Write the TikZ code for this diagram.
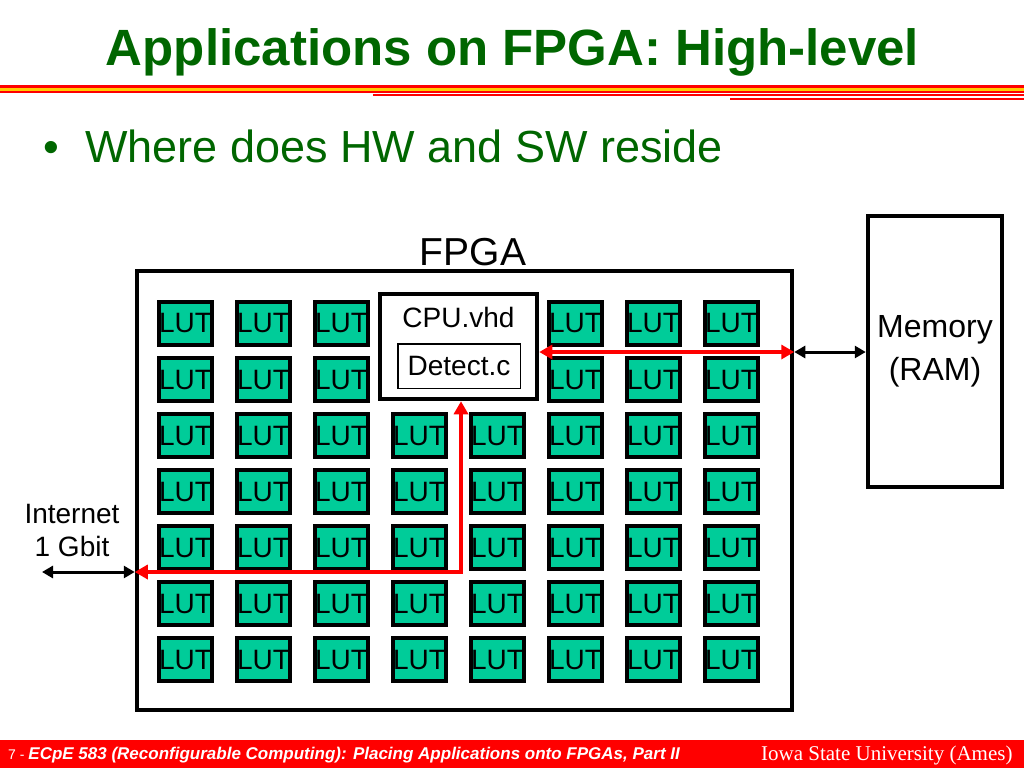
\documentclass[tikz,border=0pt]{standalone}
\usepackage{fontspec}
\setmainfont{Liberation Sans}
\newfontfamily\isufont{Liberation Serif}
\usetikzlibrary{arrows.meta}
\definecolor{titlegreen}{RGB}{0,102,0}
\definecolor{lutgreen}{RGB}{0,204,153}
\definecolor{bandyellow}{RGB}{255,204,0}
\newcommand{\fs}[1]{\fontsize{#1}{1.18\dimexpr#1pt\relax}\selectfont}

\begin{document}
\begin{tikzpicture}[x=1pt,y=-1pt,
  lut/.style={draw,line width=4pt,fill=lutgreen,minimum width=53pt,minimum height=43pt,inner sep=0pt,font=\fs{28}},
  blockbox/.style={draw,line width=4.5pt,fill=white,inner sep=0pt},
  redlink/.style={red,line width=4pt,{Triangle[length=13pt,width=14pt]}-{Triangle[length=13pt,width=14pt]}},
  blacklink/.style={black,line width=3pt,{Triangle[length=11pt,width=12pt]}-{Triangle[length=11pt,width=12pt]}}]
\useasboundingbox (0,0) rectangle (1024,768);
% title and bands
\node[anchor=base,text=titlegreen,font=\fs{51}\bfseries] (title) at (512.5,66) {Applications on FPGA: High-level};
\draw[red,line width=2.5pt] (0,86.5)--(1024,86.5);
\draw[bandyellow,line width=3pt] (0,89.2)--(1024,89.2);
\draw[red,line width=2pt] (0,92)--(1024,92);
\draw[red,line width=2pt] (373,95)--(1024,95);
\draw[red,line width=2.5pt] (730,99)--(1024,99);
\node[anchor=base west,text=titlegreen,font=\fs{45}] (dot) at (40,162) {•};
\node[anchor=base west,text=titlegreen,font=\fs{45},inner sep=0pt] (bullet) at (85,162) {Where does HW and SW reside};

% fpga, memory
\node[anchor=base,font=\fs{39}] (fpgalabel) at (473,265) {FPGA};
\node[blockbox,minimum width=655pt,minimum height=439pt] (fpga) at (464.5,490.5) {};
\node[blockbox,minimum width=134pt,minimum height=271pt,align=center,font=\fontsize{32}{43}\selectfont] (mem) at (935,351.5) {Memory\\(RAM)};

% LUT array, CPU sits on 2x2 cells
\foreach \r in {1,...,7}
  \foreach \c in {1,...,8}{
    \pgfmathtruncatemacro\lutskip{and(\r<3,and(\c>3,\c<6))}
    \ifnum\lutskip=0
      \node[lut] (lut-\r-\c) at ({185.5+78*(\c-1)},{323.5+56*(\r-1)}) {LUT};
    \fi
  }
\node[blockbox,minimum width=157pt,minimum height=105pt] (cpu) at (458.5,346.5) {};
\node[anchor=base,font=\fs{28}] (cpulabel) at (458.5,327) {CPU.vhd};
\node[draw,line width=1.5pt,minimum width=122.5pt,minimum height=44.5pt,inner sep=0pt,font=\fs{28}] (det) at (459,366) {Detect.c};

% links
\coordinate (bend) at (461,572);
\coordinate (inport) at (42,572);
\draw[redlink] ([yshift=-5.5pt]cpu.east) -- (fpga.east |- 0,352);
\draw[blacklink] (fpga.east |- 0,352) -- (mem.west |- 0,352);
\draw[redlink] ([xshift=2.5pt]cpu.south) -- (bend) -- (fpga.west |- bend);
\draw[blacklink] (fpga.west |- bend) -- (inport);
\node[anchor=base,font=\fs{28}] (inet) at (72,523) {Internet};
\node[anchor=base,font=\fs{28}] (gbit) at (72,556) {1 Gbit};

% footer
\fill[red] (0,740) rectangle (1024,768);
\node[anchor=base west,text=white,font=\fs{14},inner sep=0pt] (pageno) at (8,759) {7 - \textbf{\textit{\fs{17}ECpE 583 (Reconfigurable Computing): Placing Applications onto FPGAs, Part II}}};
\node[anchor=base east,text=white,font=\isufont\fs{21}] (isu) at (1016,760) {Iowa State University (Ames)};
\end{tikzpicture}
\end{document}
